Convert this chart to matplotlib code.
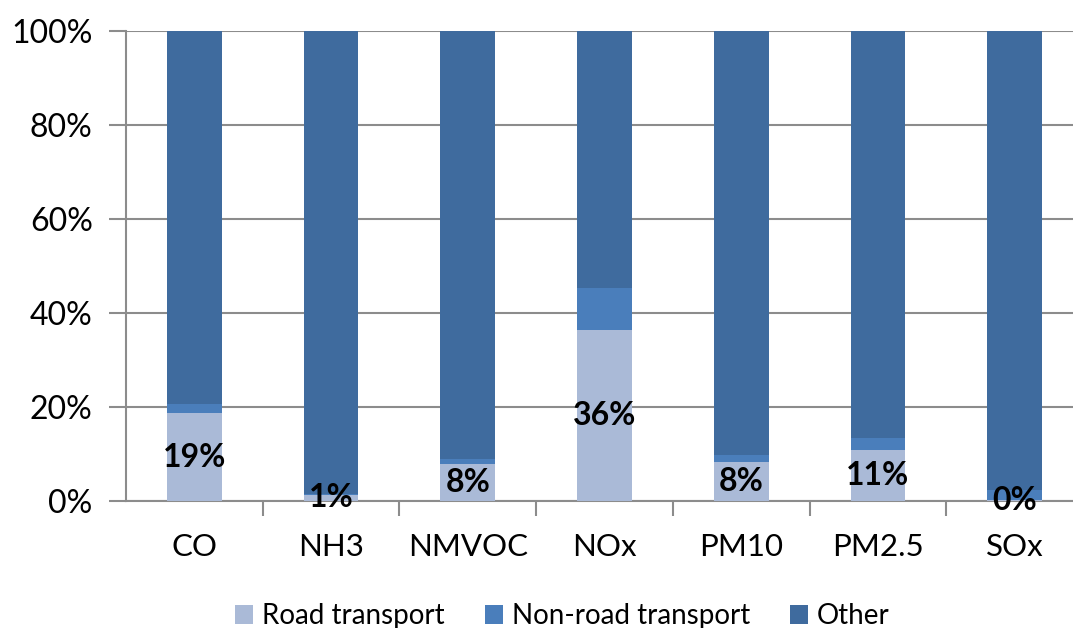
import numpy as np
import matplotlib.pyplot as plt
from matplotlib.ticker import PercentFormatter

pollutants = ["CO", "NH3", "NMVOC", "NOx", "PM10", "PM2.5", "SOx"]
road = [18.7, 1.3, 7.9, 36.4, 8.2, 10.8, 0.2]
non_road = [1.9, 0.2, 1.0, 8.9, 1.6, 2.6, 2.1]
other = [100 - r - n for r, n in zip(road, non_road)]
labels = ["19%", "1%", "8%", "36%", "8%", "11%", "0%"]

c_road = "#AABAD7"
c_nonroad = "#4A7EBB"
c_other = "#3F6B9E"
grid_c = "#8C8C8C"

plt.rcParams['font.family'] = ['Lato', 'DejaVu Sans']

fig = plt.figure(figsize=(10.73, 6.28), dpi=100)
ax = fig.add_axes([0.1174, 0.2022, 0.892, 0.7484])

x = np.arange(len(pollutants))
w = 0.4
ax.bar(x, road, w, color=c_road, label="Road transport", zorder=3)
ax.bar(x, non_road, w, bottom=road, color=c_nonroad, label="Non-road transport", zorder=3)
bot = [r + n for r, n in zip(road, non_road)]
ax.bar(x, other, w, bottom=bot, color=c_other, label="Other", zorder=3)

for xi, r, t in zip(x, road, labels):
    ax.text(xi, r / 2, t, ha="center", va="center", fontsize=23,
            fontweight="bold", color="black", zorder=4)

ax.set_xlim(-0.5, len(pollutants) - 0.5)
ax.set_ylim(0, 100)
ax.set_yticks([0, 20, 40, 60, 80, 100])
ax.yaxis.set_major_formatter(PercentFormatter(decimals=0))
ax.yaxis.grid(True, color=grid_c, linewidth=1.5, zorder=0)
ax.set_xticks(x)
ax.set_xticklabels(pollutants)
ax.set_xticks(np.arange(0.5, len(pollutants) - 0.5), minor=True)
ax.tick_params(axis="x", which="major", length=0, pad=23, labelsize=22.5)
ax.tick_params(axis="x", which="minor", length=11, width=1.5, color=grid_c, direction="out")
ax.tick_params(axis="y", length=12, width=1.5, color=grid_c, direction="out", labelsize=23, pad=12)

for s in ["top", "right"]:
    ax.spines[s].set_visible(False)
ax.spines["left"].set_color(grid_c)
ax.spines["left"].set_linewidth(1.5)
ax.spines["bottom"].set_color(grid_c)
ax.spines["bottom"].set_linewidth(1.5)

fig.legend(loc="lower center", bbox_to_anchor=(0.524, -0.042), ncol=3, frameon=False,
           fontsize=20, handlelength=0.65, handleheight=0.65, handletextpad=0.32,
           columnspacing=1.45)

fig.savefig("out.png", dpi=100)
